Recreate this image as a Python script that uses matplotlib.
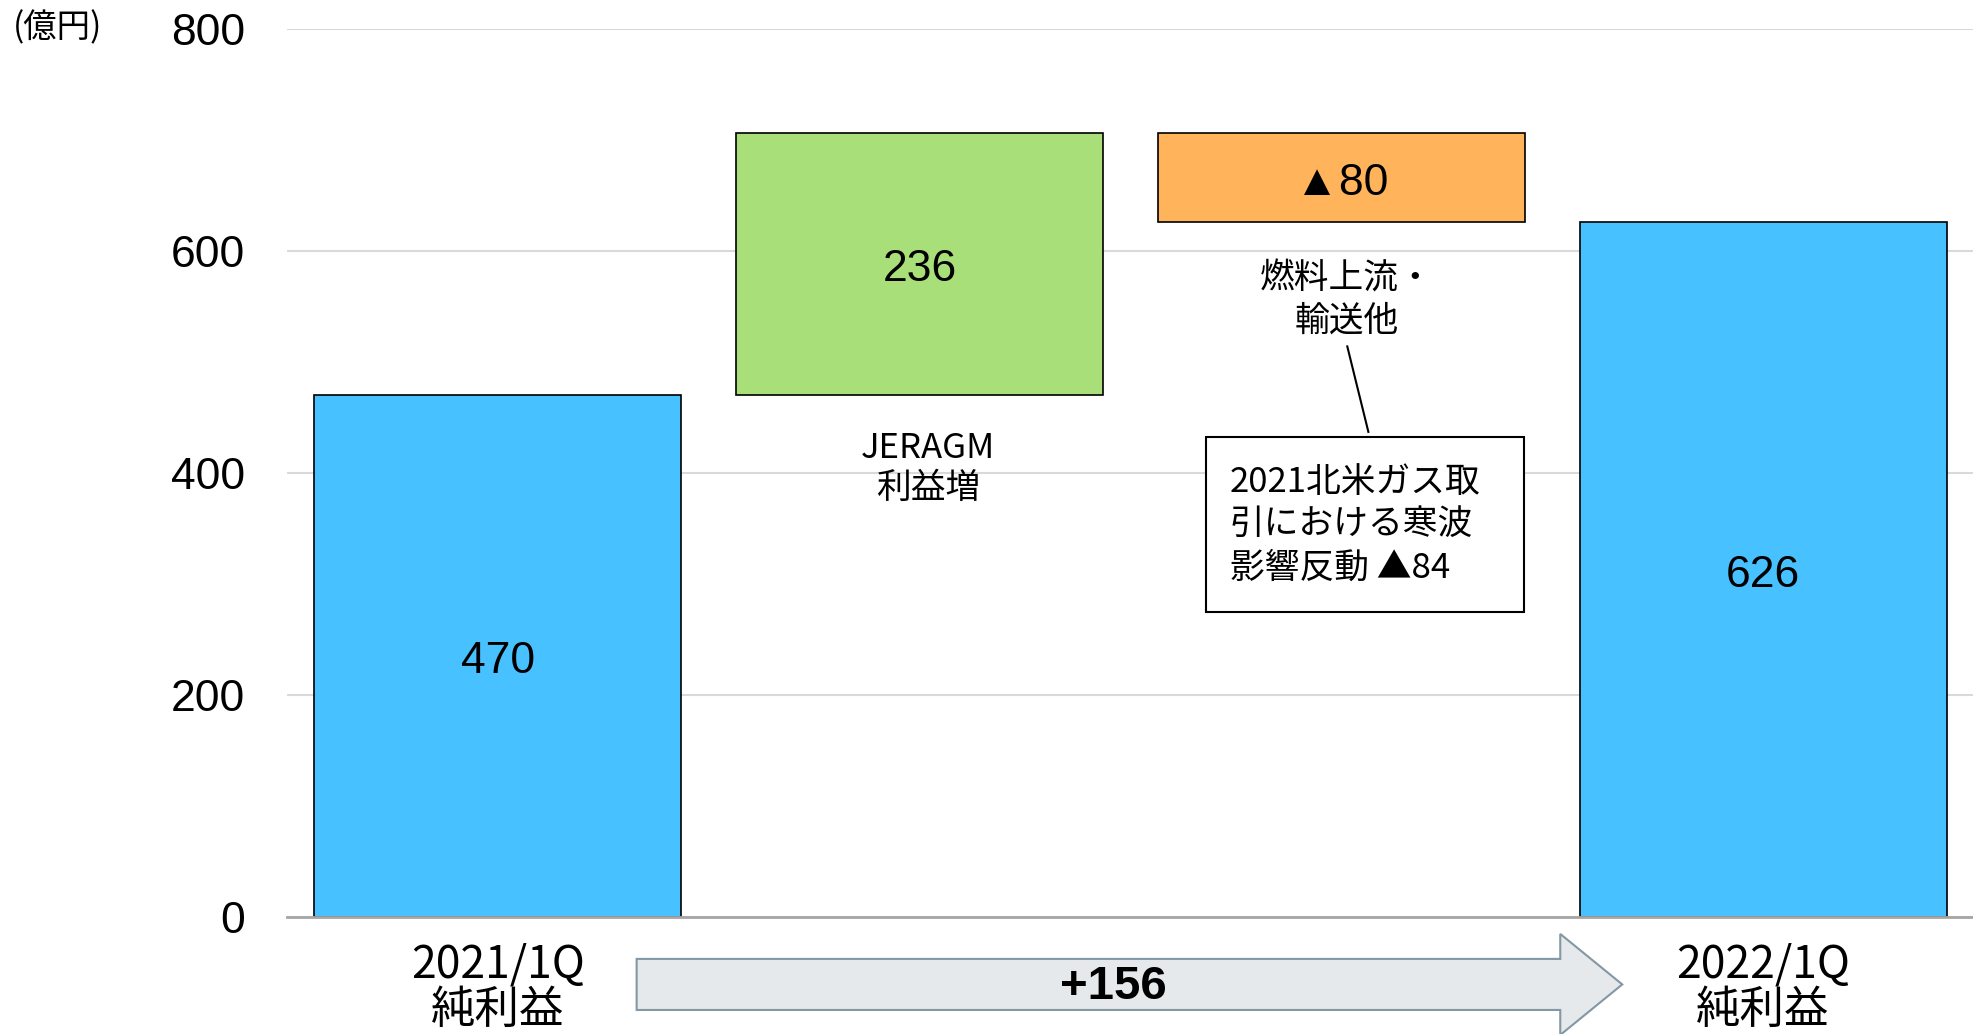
import matplotlib
matplotlib.use("Agg")
import matplotlib.pyplot as plt
from matplotlib.patches import Rectangle, FancyArrow
import numpy as np

plt.rcParams['font.family'] = ['Noto Sans CJK JP', 'DejaVu Sans']

# ---- data ----
categories = ["2021/1Q\n純利益", "", "", "2022/1Q\n純利益"]
start_value = 470
deltas = [236, -80]
end_value = 626
delta_names = ["JERAGM\n利益増", "燃料上流・\n輸送他"]
note_lines = ["2021北米ガス取", "引における寒波", "影響反動 ▲84"]
total_change = "+156"
yticks = [0, 200, 400, 600, 800]
unit_label = "(億円)"

# ---- derived bar geometry ----
heights = [start_value] + deltas + [end_value]
cum = np.cumsum([start_value] + deltas)
bottoms = [0] + list(cum[:-1]) + [0]
colors = ["#47C1FF", "#A9DF78", "#FFB35A", "#47C1FF"]
x = np.arange(len(heights))

fig = plt.figure(figsize=(19.74, 10.34), dpi=100)
ax = fig.add_axes([0.1454, 0.1132, 0.8546, 0.8588])

ax.bar(x, heights, bottom=bottoms, width=0.87, color=colors,
       edgecolor="black", linewidth=1.2, zorder=3)

def fmt(v):
    return f"▲{abs(v)}" if v < 0 else f"{v}"

for xi, h, b in zip(x, heights, bottoms):
    ax.text(xi, b + h / 2 - 5, fmt(h), ha="center", va="center", fontsize=32,
            family=["Liberation Sans", "DejaVu Sans"], zorder=4)

ax.set_xlim(-0.5, 3.5)
ax.set_ylim(0, 800)
ax.set_yticks(yticks)
ax.set_yticklabels([str(t) for t in yticks], family=["Liberation Sans", "DejaVu Sans"], fontsize=32)
ax.tick_params(axis="y", length=0, pad=30)
ax.set_xticks(x)
ax.set_xticklabels(categories, fontsize=32, linespacing=0.98)
ax.tick_params(axis="x", length=0, pad=18)

ax.grid(axis="y", color="#D9D9D9", linewidth=1.5, zorder=0)
ax.set_axisbelow(True)
for s in ["top", "right", "left"]:
    ax.spines[s].set_visible(False)
ax.spines["bottom"].set_color("#A6A6A6")
ax.spines["bottom"].set_linewidth(2)
ax.spines["bottom"].set_zorder(5)

# delta labels
ax.text(1.02, 422, delta_names[0].split("\n")[0], ha="center", va="center", fontsize=25)
ax.text(1.02, 386, delta_names[0].split("\n")[1], ha="center", va="center", fontsize=25)
ax.text(2.012, 575, delta_names[1].split("\n")[0], ha="center", va="center", fontsize=25)
ax.text(2.012, 537, delta_names[1].split("\n")[1], ha="center", va="center", fontsize=25)

# leader line and note box
ax.plot([2.014, 2.064], [514, 437], color="black", linewidth=1.5, zorder=4)
ax.add_patch(Rectangle((1.68, 275), 0.754, 157.5, facecolor="white",
                       edgecolor="black", linewidth=1.5, zorder=4))
for line, yy in zip(note_lines, [391, 354, 314]):
    ax.text(1.735, yy, line, ha="left", va="center", fontsize=25, zorder=5)

# total change arrow
arrow = FancyArrow(0.329, -60.8, 2.337, 0, width=46, head_width=91,
                   head_length=0.147, length_includes_head=True,
                   facecolor="#E5E9EC", edgecolor="#8497A4", linewidth=1.5,
                   clip_on=False, zorder=2)
ax.add_patch(arrow)
ax.text(1.46, -63, total_change, ha="center", va="center", fontsize=34,
        fontweight="bold", family=["Liberation Sans", "DejaVu Sans"], clip_on=False)

fig.text(13 / 1974, 1 - 28 / 1034, unit_label, ha="left", va="center", fontsize=24)

fig.savefig("out.png", dpi=100)
